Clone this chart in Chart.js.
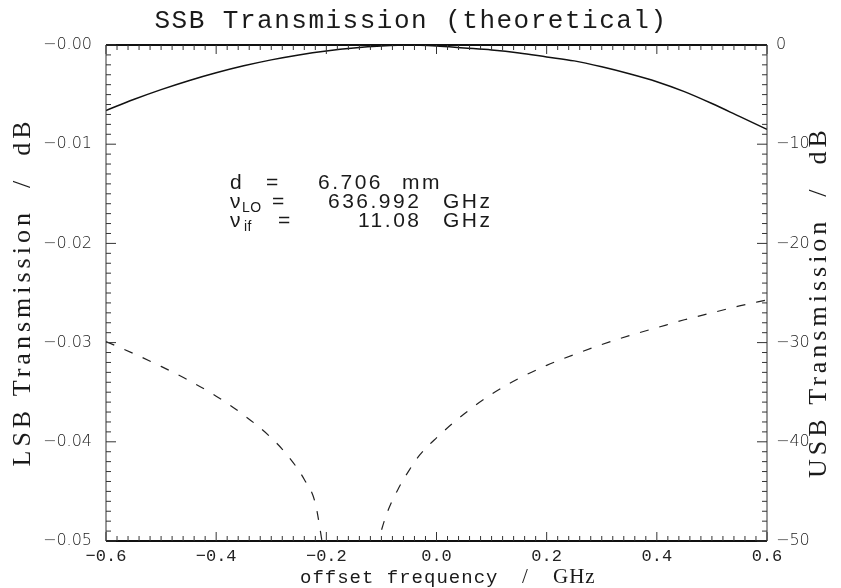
<!DOCTYPE html>
<html>
<head>
<meta charset="utf-8">
<script src="https://cdn.jsdelivr.net/npm/chart.js@4.4.0/dist/chart.umd.min.js"></script>
<style>
html, body { margin: 0; padding: 0; background: #fff; }
</style>
</head>
<body>
<canvas id="ssbChart" width="841" height="588"></canvas>
<script>
// offset frequency (GHz) for the LSB curve (solid, left axis)
var lsbFreq = [-0.60,-0.55,-0.50,-0.45,-0.40,-0.35,-0.30,-0.25,-0.20,-0.15,-0.10,-0.05,0.00,
               0.05,0.10,0.15,0.20,0.25,0.30,0.35,0.40,0.45,0.50,0.55,0.60];
var lsbValues = [-0.0066,-0.0055,-0.0045,-0.0036,-0.0028,-0.0021,-0.0015,-0.0010,-0.0006,-0.0003,-0.0001,0.0,-0.0001,
                 -0.0003,-0.0005,-0.0008,-0.0012,-0.0016,-0.0022,-0.0029,-0.0037,-0.0047,-0.0059,-0.0072,-0.0085];

// USB curve (dashed, right axis), null = gap below the bottom of the plot
var usbFreq = [-0.60,-0.55,-0.50,-0.45,-0.40,-0.35,-0.30,-0.27,-0.24,-0.22,-0.205,-0.16,
               -0.11,-0.09,-0.07,-0.05,-0.03,0.00,0.05,0.10,0.15,0.20,0.25,0.30,0.35,0.40,0.45,0.50,0.55,0.60];
var usbValues = [-29.9,-31.1,-32.4,-33.8,-35.4,-37.3,-39.6,-41.4,-43.8,-46.2,-51.0,null,
                 -50.8,-47.2,-44.8,-42.9,-41.3,-39.6,-37.2,-35.2,-33.6,-32.3,-31.2,-30.2,-29.3,-28.5,-27.7,-27.0,-26.3,-25.7];

var xTicks = [-0.6,-0.4,-0.2,0.0,0.2,0.4,0.6];
var leftTicks = [0,-0.01,-0.02,-0.03,-0.04,-0.05];
var rightTicks = [0,-10,-20,-30,-40,-50];

var titleText = "SSB Transmission (theoretical)";
var leftTitle = "LSB Transmission  /  dB";
var rightTitle = "USB Transmission  /  dB";

var lsbData = [];
for (var i in lsbFreq) lsbData.push({x: lsbFreq[i], y: lsbValues[i]});
var usbData = [];
for (var j in usbFreq) usbData.push({x: usbFreq[j], y: usbValues[j]});

function setTicks(list) {
  return function(scale) { scale.ticks = list.map(function(v){ return {value: v}; }); };
}

var frame = {
  id: 'frame',
  afterDraw: function(chart) {
    var ctx = chart.ctx, a = chart.chartArea;
    var sx = chart.scales.x, sl = chart.scales.yL, sr = chart.scales.yR;
    ctx.save();
    ctx.strokeStyle = '#111';
    // box
    ctx.lineWidth = 2;
    ctx.beginPath();
    ctx.moveTo(a.left, a.top); ctx.lineTo(a.right, a.top);
    ctx.moveTo(a.left, a.bottom); ctx.lineTo(a.right, a.bottom);
    ctx.stroke();
    ctx.lineWidth = 1;
    ctx.strokeStyle = '#333';
    ctx.beginPath();
    ctx.moveTo(a.left, a.top); ctx.lineTo(a.left, a.bottom);
    ctx.moveTo(a.right, a.top); ctx.lineTo(a.right, a.bottom);
    ctx.stroke();
    // inward ticks
    ctx.beginPath();
    for (var i = -30; i <= 30; i++) {
      var px = sx.getPixelForValue(i * 0.02);
      var len = (i % 10 === 0) ? 9 : 5;
      ctx.moveTo(px, a.bottom); ctx.lineTo(px, a.bottom - len);
      ctx.moveTo(px, a.top); ctx.lineTo(px, a.top + len);
    }
    for (var k = 0; k <= 50; k++) {
      var len2 = (k % 10 === 0) ? 10 : 5;
      var py = sl.getPixelForValue(-k * 0.001);
      ctx.moveTo(a.left, py); ctx.lineTo(a.left + len2, py);
      var pr = sr.getPixelForValue(-k);
      ctx.moveTo(a.right, pr); ctx.lineTo(a.right - len2, pr);
    }
    ctx.stroke();

    ctx.fillStyle = '#1a1a1a';
    // title
    ctx.font = '26px "Liberation Mono"';
    ctx.letterSpacing = '1.5px';
    ctx.textAlign = 'center';
    ctx.textBaseline = 'alphabetic';
    ctx.fillText(titleText, 411, 28);

    // axis titles
    ctx.font = '26px "Liberation Serif"';
    ctx.letterSpacing = '4px';
    ctx.save();
    ctx.translate(30, 292);
    ctx.rotate(-Math.PI / 2);
    ctx.fillText(leftTitle, 0, 0);
    ctx.restore();
    ctx.save();
    ctx.translate(826, 302);
    ctx.rotate(-Math.PI / 2);
    ctx.fillText(rightTitle, 0, 0);
    ctx.restore();

    ctx.textAlign = 'left';
    ctx.letterSpacing = '1px';
    ctx.font = '19px "Liberation Mono"';
    ctx.fillText('offset frequency', 300, 583);
    ctx.font = '21px "Liberation Serif"';
    ctx.fillText('/', 522, 583);
    ctx.fillText('GHz', 553, 583);

    // annotation
    ctx.font = '21px "Liberation Sans"';
    ctx.letterSpacing = '2.5px';
    ctx.fillText('d', 230, 189);
    ctx.fillText('=', 266, 189);
    ctx.fillText('6.706', 318, 189);
    ctx.fillText('mm', 402, 189);
    ctx.fillText('\u03BD', 230, 208);
    ctx.fillText('=', 272, 208);
    ctx.fillText('636.992', 328, 208);
    ctx.fillText('GHz', 443, 208);
    ctx.fillText('\u03BD', 230, 227);
    ctx.fillText('=', 278, 227);
    ctx.fillText('11.08', 358, 227);
    ctx.fillText('GHz', 443, 227);
    ctx.font = '14px "Liberation Sans"';
    ctx.letterSpacing = '0.5px';
    ctx.fillText('LO', 242, 212);
    ctx.fillText('if', 244, 231);
    ctx.restore();
  }
};

var LineGraph = new Chart(document.getElementById('ssbChart'), {
  type: 'line',
  data: {
    datasets: [
      {
        label: 'LSB',
        data: lsbData,
        yAxisID: 'yL',
        borderColor: '#111',
        borderWidth: 1.5,
        pointRadius: 0,
        fill: false,
        cubicInterpolationMode: 'monotone'
      },
      {
        label: 'USB',
        data: usbData,
        yAxisID: 'yR',
        borderColor: '#222',
        borderWidth: 1.2,
        borderDash: [9, 11],
        pointRadius: 0,
        fill: false,
        spanGaps: false,
        cubicInterpolationMode: 'monotone'
      }
    ]
  },
  options: {
    responsive: false,
    animation: false,
    layout: { padding: { top: 45, left: 0, right: 0, bottom: 0 } },
    plugins: { legend: { display: false }, tooltip: { enabled: false } },
    scales: {
      x: {
        type: 'linear', min: -0.6, max: 0.6,
        afterBuildTicks: setTicks(xTicks),
        afterFit: function(s) { s.height = 47; },
        grid: { display: false, drawTicks: false },
        border: { display: false },
        ticks: {
          padding: 5, color: '#222',
          font: { family: 'Liberation Mono', size: 17 },
          maxRotation: 0,
          callback: function(v) { return (v < 0 ? '\u2212' : '') + Math.abs(v).toFixed(1); }
        }
      },
      yL: {
        type: 'linear', position: 'left', min: -0.05, max: 0,
        afterBuildTicks: setTicks(leftTicks),
        afterFit: function(s) { s.width = 106; },
        grid: { display: false, drawTicks: false },
        border: { display: false },
        ticks: {
          padding: 14, color: '#222',
          font: { family: 'DejaVu Sans', size: 16, weight: '200' },
          callback: function(v) { return '\u2212' + Math.abs(v).toFixed(2); }
        }
      },
      yR: {
        type: 'linear', position: 'right', min: -50, max: 0,
        afterBuildTicks: setTicks(rightTicks),
        afterFit: function(s) { s.width = 74; },
        grid: { display: false, drawTicks: false },
        border: { display: false },
        ticks: {
          padding: 9, color: '#222',
          font: { family: 'DejaVu Sans', size: 16, weight: '200' },
          callback: function(v) { return v === 0 ? '0' : '\u2212' + Math.abs(v); }
        }
      }
    }
  },
  plugins: [frame]
});
</script>
</body>
</html>
